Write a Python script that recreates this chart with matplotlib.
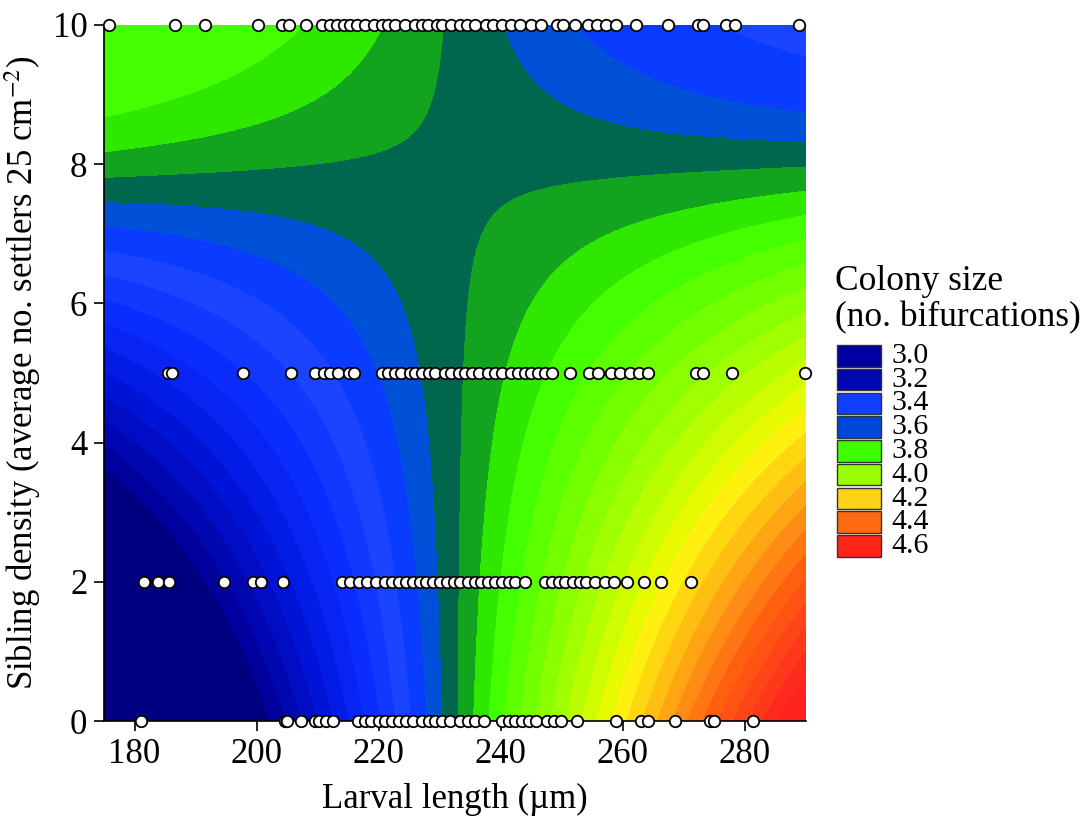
import numpy as np
import matplotlib
matplotlib.use("Agg")
import matplotlib.pyplot as plt
from matplotlib.colors import to_rgb
from matplotlib.patches import Rectangle

plt.rcParams["font.family"] = ["Liberation Serif", "DejaVu Serif"]
plt.rcParams["mathtext.fontset"] = "stix"

# larval length (um) of the sampled colonies, one list per sibling density
DENSITIES = [0, 2, 5, 10]
LEN_D0 = [181.1, 204.6, 205.0, 207.3, 209.5, 210.2, 211.4, 212.5, 216.6, 217.7,
          218.8, 220.0, 221.1, 222.2, 223.3, 224.5, 225.6, 227.1, 228.2, 229.3,
          230.4, 231.6, 233.4, 234.6, 235.7, 237.2, 240.2, 241.3, 242.4, 243.5,
          244.7, 245.8, 247.6, 248.7, 249.9, 252.5, 258.9, 263.0, 264.1, 268.6,
          274.2, 275.0, 281.3]
LEN_D2 = [181.5, 183.9, 185.6, 194.7, 199.4, 200.7, 204.3, 214.0, 215.3, 216.8,
          218.1, 219.6, 221.1, 222.2, 223.3, 224.5, 225.6, 226.7, 227.8, 228.9,
          230.1, 231.2, 232.3, 233.4, 234.6, 235.7, 236.8, 237.9, 239.0, 240.2,
          241.3, 242.4, 243.9, 247.3, 248.4, 249.5, 250.6, 251.8, 252.9, 254.0,
          255.5, 257.0, 258.5, 260.7, 263.4, 266.3, 271.2]
LEN_D5 = [185.5, 186.1, 197.7, 205.6, 209.5, 211.0, 212.1, 213.4, 215.1, 215.9,
          220.5, 221.5, 222.6, 223.7, 225.2, 226.0, 227.1, 228.2, 229.3, 230.8,
          231.9, 233.1, 234.2, 235.3, 236.4, 237.9, 239.0, 240.2, 241.7, 242.8,
          243.9, 245.0, 246.1, 247.3, 248.4, 251.4, 254.4, 255.9, 258.1, 259.6,
          261.1, 262.6, 264.1, 272.0, 273.1, 277.9, 289.9]
LEN_D10 = [175.8, 186.6, 191.5, 200.2, 204.2, 205.3, 208.1, 210.7, 212.0, 213.2,
           214.3, 215.3, 216.4, 217.8, 219.2, 220.5, 221.5, 222.7, 224.3, 225.9,
           227.1, 228.1, 229.5, 230.4, 231.8, 233.3, 234.5, 235.8, 237.6, 238.7,
           240.2, 241.7, 243.1, 244.9, 246.6, 249.2, 250.2, 252.1, 254.3, 255.8,
           257.2, 258.9, 262.1, 267.4, 272.3, 273.1, 276.9, 278.4, 288.8]

# fitted colony-size surface: saddle in length x density, response levels off above the ridge
SURF_C = 3.69          # value at the saddle
SURF_K = 0.0025        # length x density interaction
SADDLE_X = 232.5
SADDLE_Y = 7.885
RIDGE_TILT = 0.00252
SURF_CAP = 0.16

LEVELS = np.round(np.arange(2.50, 4.96, 0.05), 2)
RAMP_V = [3.075, 3.125, 3.275, 3.425, 3.475, 3.525, 3.575, 3.625, 3.675, 3.725,
          3.775, 3.825, 4.025, 4.175, 4.225, 4.425, 4.525, 4.725, 4.80]
RAMP_C = ["#000080", "#00009c", "#0014d8", "#0a2cff", "#1038ff", "#1a44ff", "#0a3cff",
          "#0050d8", "#00674e", "#12a41e", "#2ee800", "#44ff00", "#a0ff00", "#e8fa00",
          "#fff010", "#ff8c14", "#ff6010", "#ff2a1e", "#ff2020"]

LEGEND_LABELS = ["3.0", "3.2", "3.4", "3.6", "3.8", "4.0", "4.2", "4.4", "4.6"]
LEGEND_COLORS = ["#0000a0", "#0006b0", "#1040ff", "#0048d8", "#40ff00", "#99ff00",
                 "#ffd21a", "#ff6a10", "#ff2418"]


def band_colors():
    mids = LEVELS[:-1] + 0.025
    rgb = np.array([to_rgb(c) for c in RAMP_C])
    return [tuple(np.interp(m, RAMP_V, rgb[:, i]) for i in range(3)) for m in mids]


def surface():
    xx, yy = np.meshgrid(np.linspace(175, 290, 461), np.linspace(0, 10, 401))
    ridge = SADDLE_Y + RIDGE_TILT * (xx - SADDLE_X)
    dev = SURF_K * (xx - SADDLE_X) * (ridge - yy)
    dev = np.where(yy > ridge, SURF_CAP * np.tanh(dev / SURF_CAP), dev)
    zz = np.clip(SURF_C + dev, LEVELS[0] + 0.001, LEVELS[-1] - 0.001)
    return xx, yy, zz


fig = plt.figure(figsize=(10.86, 8.31), dpi=100)
ax = fig.add_axes([104 / 1086, 110 / 831, 702 / 1086, 696 / 831])

xx, yy, zz = surface()
ax.contourf(xx, yy, zz, levels=LEVELS, colors=band_colors(), antialiased=False)

for d, xs in zip(DENSITIES, [LEN_D0, LEN_D2, LEN_D5, LEN_D10]):
    ax.scatter(xs, [d] * len(xs), s=68, facecolor="white", edgecolor="black",
               linewidth=1.3, zorder=5, clip_on=False)

ax.set_xlim(175, 290)
ax.set_ylim(0, 10)
ax.set_xticks(range(180, 281, 20))
ax.set_yticks(range(0, 11, 2))
ax.tick_params(direction="out", length=7, width=1.2, labelsize=25, pad=5)
for s in ("top", "right"):
    ax.spines[s].set_visible(False)
for s in ("left", "bottom"):
    ax.spines[s].set_linewidth(1.2)
ax.set_xlabel("Larval length (\u00b5m)", fontsize=25, labelpad=9)
ax.set_ylabel("Sibling density (average no. settlers 25 cm$^{-2}$)", fontsize=25, labelpad=7)

# legend, laid out in pixel coordinates
lax = fig.add_axes([0, 0, 1, 1])
lax.set_xlim(0, 1086)
lax.set_ylim(831, 0)
lax.axis("off")
lax.text(835, 282, "Colony size", fontsize=25.5, va="center", ha="left")
lax.text(835, 318, "(no. bifurcations)", fontsize=25.5, va="center", ha="left")
for i, (lab, col) in enumerate(zip(LEGEND_LABELS, LEGEND_COLORS)):
    top = 345 + i * 23.75
    lax.add_patch(Rectangle((837, top), 44, 21.7, facecolor=col, edgecolor="#333333", linewidth=1))
    lax.text(891, top + 11, lab, fontsize=21.5, va="center", ha="left")

fig.savefig("out.png", dpi=100)
